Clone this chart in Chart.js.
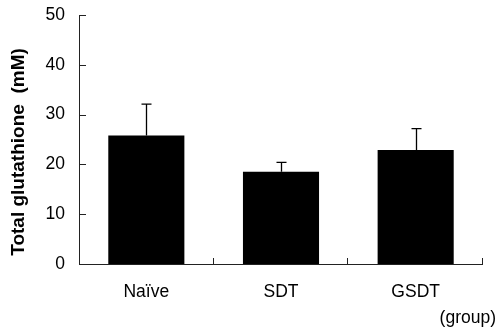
<!DOCTYPE html>
<html>
<head>
<meta charset="utf-8">
<script src="https://cdn.jsdelivr.net/npm/chart.js@4"></script>
<style>
  html, body { margin: 0; padding: 0; background: #fff; }
  #wrap { width: 497px; height: 331px; }
</style>
</head>
<body>
<div id="wrap"><canvas id="chart" width="497" height="331"></canvas></div>
<script>
// Total glutathione per group, mean with upward SD bar
const groups = ['Naïve', 'SDT', 'GSDT'];
const means = [25.8, 18.5, 22.9];
const errors = [6.3, 1.9, 4.3];
const yTicks = [0, 10, 20, 30, 40, 50];

const FONT = 'Arial, "Liberation Sans", sans-serif';

// axis lines, inward tick marks, error bars and the two axis captions
const decor = {
  id: 'decor',
  afterDatasetsDraw(chart) {
    const { ctx, chartArea: a, scales: { x, y } } = chart;
    ctx.save();
    ctx.strokeStyle = '#222';
    ctx.lineWidth = 1;
    ctx.beginPath();
    ctx.moveTo(a.left + 0.5, a.top);
    ctx.lineTo(a.left + 0.5, a.bottom + 0.5);
    ctx.lineTo(a.right, a.bottom + 0.5);
    yTicks.forEach((v) => {
      const py = Math.round(y.getPixelForValue(v)) + 0.5;
      ctx.moveTo(a.left, py);
      ctx.lineTo(a.left + 7, py);
    });
    for (let i = 0; i < groups.length; i++) {
      const half = (x.getPixelForValue(1) - x.getPixelForValue(0)) / 2;
      const px = Math.round(x.getPixelForValue(i) + half) - 0.5;
      ctx.moveTo(px, a.bottom);
      ctx.lineTo(px, a.bottom - 6);
    }
    ctx.stroke();

    ctx.strokeStyle = '#000';
    ctx.lineWidth = 1.3;
    ctx.beginPath();
    means.forEach((m, i) => {
      const px = Math.round(x.getPixelForValue(i)) + 0.5;
      const top = y.getPixelForValue(m + errors[i]);
      ctx.moveTo(px, y.getPixelForValue(m));
      ctx.lineTo(px, top);
      ctx.moveTo(px - 5, top);
      ctx.lineTo(px + 5, top);
    });
    ctx.stroke();

    ctx.fillStyle = '#000';
    ctx.font = `bold 19px ${FONT}`;
    ctx.textAlign = 'center';
    ctx.textBaseline = 'middle';
    ctx.translate(19, 152);
    ctx.rotate(-Math.PI / 2);
    ctx.fillText('Total glutathione  (mM)', 0, 0);
    ctx.setTransform(1, 0, 0, 1, 0, 0);
    ctx.font = `17.5px ${FONT}`;
    ctx.textAlign = 'right';
    ctx.textBaseline = 'alphabetic';
    ctx.fillText('(group)', 496, 323);
    ctx.restore();
  },
};

new Chart(document.getElementById('chart'), {
  type: 'bar',
  data: {
    labels: groups,
    datasets: [{
      data: means,
      backgroundColor: '#000',
      borderColor: '#000',
      borderWidth: 0,
      categoryPercentage: 1,
      barPercentage: 0.565,
    }],
  },
  options: {
    responsive: false,
    animation: false,
    devicePixelRatio: 1,
    layout: { padding: { top: 15, right: 14, bottom: 0, left: 0 } },
    plugins: { legend: { display: false }, tooltip: { enabled: false } },
    scales: {
      x: {
        grid: { display: false, drawTicks: false },
        border: { display: false },
        ticks: { color: '#000', padding: 17.5, font: { family: FONT, size: 17.5 } },
        afterFit: (s) => { s.height = 67; s.paddingLeft = 0; s.paddingRight = 0; },
      },
      y: {
        min: 0,
        max: 50,
        grid: { display: false, drawTicks: false },
        border: { display: false },
        ticks: { color: '#000', padding: 14, stepSize: 10, font: { family: FONT, size: 17.5 } },
        afterFit: (s) => { s.width = 79; s.paddingTop = 0; s.paddingBottom = 0; },
      },
    },
  },
  plugins: [decor],
});
</script>
</body>
</html>
